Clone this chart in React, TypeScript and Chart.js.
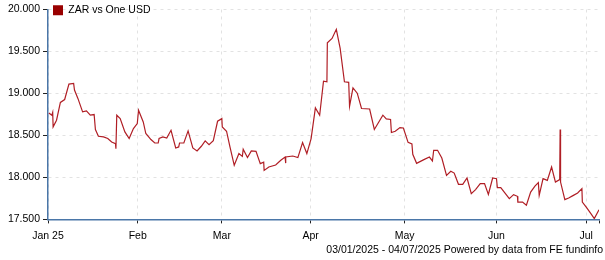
import React, { useEffect, useRef } from "react";
import { Chart, registerables } from "chart.js";

Chart.register(...registerables);

// Position along the x axis in trading-day units (Jan 3 = 0)
const xs: number[] = [
  0.2, 0.9, 1.1, 1.2, 2.0, 2.9, 3.9, 4.9, 6.0, 6.2,
  7.0, 8.1, 9.0, 9.9, 10.8, 11.1, 11.8, 13.0, 14.0, 14.9,
  15.8, 15.9, 16.1, 16.9, 18.0, 19.0, 20.0, 20.9, 21.2, 22.3,
  22.9, 24.1, 25.0, 25.8, 26.0, 26.9, 27.8, 28.8, 29.9, 30.6,
  30.8, 31.8, 32.8, 33.9, 34.9, 35.9, 36.8, 37.7, 38.7, 39.7,
  40.7, 40.8, 41.8, 42.6, 43.6, 44.7, 45.5, 45.7, 46.7, 47.6,
  48.7, 49.7, 50.5, 50.6, 51.7, 53.3, 54.5, 55.5, 55.6, 55.7,
  57.3, 58.5, 59.6, 60.6, 61.6, 62.6, 63.6, 64.5, 65.3, 65.4,
  66.5, 67.5, 68.4, 69.4, 70.4, 70.6, 71.4, 72.4, 73.4, 75.3,
  76.4, 78.4, 79.2, 80.2, 80.4, 81.3, 82.4, 83.2, 84.3, 85.2,
  85.4, 86.3, 88.0, 89.3, 90.0, 90.3, 91.2, 92.2, 93.3, 94.3,
  95.1, 96.1, 97.1, 98.1, 99.1, 100.1, 101.2, 102.2, 103.1, 104.1,
  105.0, 105.2, 106.0, 108.0, 109.0, 109.9, 110.0, 111.1, 112.0, 113.0,
  114.0, 114.8, 115.0, 115.9, 116.9, 117.9, 118.8, 119.8, 119.9, 120.0,
  121.0, 121.9, 122.9, 124.0, 125.0, 125.1, 126.1, 127.1, 127.9, 129.0,
];

// ZAR per one USD
const zarValues: number[] = [
  18.768, 18.741, 18.774, 18.602, 18.681, 18.893, 18.928, 19.111, 19.120, 19.040,
  18.941, 18.781, 18.793, 18.741, 18.749, 18.570, 18.490, 18.482, 18.463, 18.422,
  18.403, 18.343, 18.741, 18.702, 18.542, 18.463, 18.582, 18.642, 18.801, 18.661,
  18.523, 18.451, 18.410, 18.410, 18.463, 18.482, 18.470, 18.562, 18.351, 18.363,
  18.410, 18.410, 18.554, 18.351, 18.315, 18.371, 18.435, 18.391, 18.437, 18.669,
  18.700, 18.602, 18.550, 18.363, 18.144, 18.284, 18.251, 18.335, 18.236, 18.315,
  18.311, 18.164, 18.181, 18.084, 18.124, 18.148, 18.204, 18.243, 18.171, 18.243,
  18.255, 18.236, 18.415, 18.284, 18.463, 18.828, 18.741, 19.147, 19.139, 19.603,
  19.656, 19.764, 19.537, 19.139, 19.132, 18.848, 19.067, 19.003, 18.821, 18.815,
  18.571, 18.741, 18.697, 18.690, 18.535, 18.550, 18.594, 18.589, 18.418, 18.398,
  18.276, 18.168, 18.212, 18.243, 18.196, 18.323, 18.323, 18.231, 18.025, 18.073,
  18.052, 17.918, 17.918, 17.993, 17.807, 17.855, 17.926, 17.926, 17.798, 17.993,
  17.985, 17.878, 17.878, 17.748, 17.795, 17.775, 17.706, 17.706, 17.668, 17.825,
  17.897, 17.938, 17.786, 17.985, 17.965, 18.124, 17.945, 17.974, 18.570, 17.945,
  17.735, 17.755, 17.783, 17.814, 17.867, 17.706, 17.639, 17.568, 17.509, 17.616,
];

const monthTickPositions: number[] = [0, 21, 40.7, 61.5, 83.5, 105, 126];
const monthTickLabels: string[] = ["Jan 25", "Feb", "Mar", "Apr", "May", "Jun", "Jul"];
const xMin = 0;
const xMax = 129;

const yMin = 17.5;
const yMax = 20;
const yStep = 0.5;

const seriesLabel = "ZAR vs One USD";
const footerText = "03/01/2025 - 04/07/2025 Powered by data from FE fundinfo";

const FONT = '"Liberation Sans", Arial, Helvetica, sans-serif';
const lineColor = "#b01e25";
const legendBoxColor = "#990000";
const axisColor = "#4a76a8";
const gridColor = "#e2e2e2";

export default function App() {
  const canvasRef = useRef<HTMLCanvasElement | null>(null);

  useEffect(() => {
    if (!canvasRef.current) return;
    Chart.defaults.font.family = FONT;
    Chart.defaults.font.size = 10.5;
    Chart.defaults.color = "#000";

    const points = xs.map((x, i) => ({ x, y: zarValues[i] }));

    const chart = new Chart(canvasRef.current, {
      type: "line",
      data: {
        datasets: [
          {
            label: seriesLabel,
            data: points,
            borderColor: lineColor,
            backgroundColor: legendBoxColor,
            borderWidth: 1.2,
            pointRadius: 0,
            pointHoverRadius: 0,
            tension: 0,
            fill: false,
          },
        ],
      },
      options: {
        animation: false,
        responsive: false,
        devicePixelRatio: 1,
        layout: { padding: { left: 0, right: 2, top: 9.5, bottom: 0 } },
        plugins: {
          legend: {
            position: "chartArea" as any,
            align: "start",
            labels: {
              boxWidth: 10,
              boxHeight: 10,
              padding: 5,
              color: "#000",
              font: { size: 10.5, family: FONT },
              generateLabels: (c: any) =>
                Chart.defaults.plugins.legend.labels
                  .generateLabels(c)
                  .map((l: any) => ({
                    ...l,
                    fillStyle: legendBoxColor,
                    strokeStyle: legendBoxColor,
                    lineWidth: 0,
                  })),
            },
          },
          title: {
            display: true,
            text: footerText,
            position: "bottom",
            align: "end",
            color: "#000",
            font: { size: 10.5, weight: "normal", family: FONT },
            padding: { top: 1, bottom: 4 },
          },
          tooltip: { enabled: false },
        },
        scales: {
          x: {
            type: "linear",
            min: xMin,
            max: xMax,
            afterBuildTicks: (scale: any) => {
              scale.ticks = [...monthTickPositions, xMax].map((v) => ({ value: v }));
            },
            afterFit: (scale: any) => {
              scale.height = 23;
            },
            ticks: {
              autoSkip: false,
              maxRotation: 0,
              padding: 6,
              color: "#000",
              font: { size: 10.5, family: FONT },
              callback: (_v: any, i: number) => monthTickLabels[i] ?? "",
            },
            grid: {
              color: (ctx: any) =>
                ctx.tick && ctx.tick.value === xMax ? "rgba(0,0,0,0)" : gridColor,
              lineWidth: 1,
              tickLength: 4,
              tickColor: "#222",
              tickWidth: 1,
            },
            border: { color: axisColor, width: 1.5, dash: [3, 4] },
          },
          y: {
            type: "linear",
            min: yMin,
            max: yMax,
            afterFit: (scale: any) => {
              scale.width = 48;
            },
            ticks: {
              stepSize: yStep,
              padding: 3,
              color: "#000",
              font: { size: 10.5, family: FONT },
              callback: (v: any) => Number(v).toFixed(3),
            },
            grid: {
              color: gridColor,
              lineWidth: 1,
              tickLength: 5,
              tickColor: "#222",
              tickWidth: 1,
            },
            border: { color: axisColor, width: 1.5, dash: [3, 4] },
          },
        },
      },
    });
    return () => chart.destroy();
  }, []);

  return (
    <div style={{ position: "absolute", left: 0, top: 0, width: 605, height: 260, background: "#fff" }}>
      <canvas ref={canvasRef} width={605} height={260} style={{ display: "block" }} />
    </div>
  );
}
